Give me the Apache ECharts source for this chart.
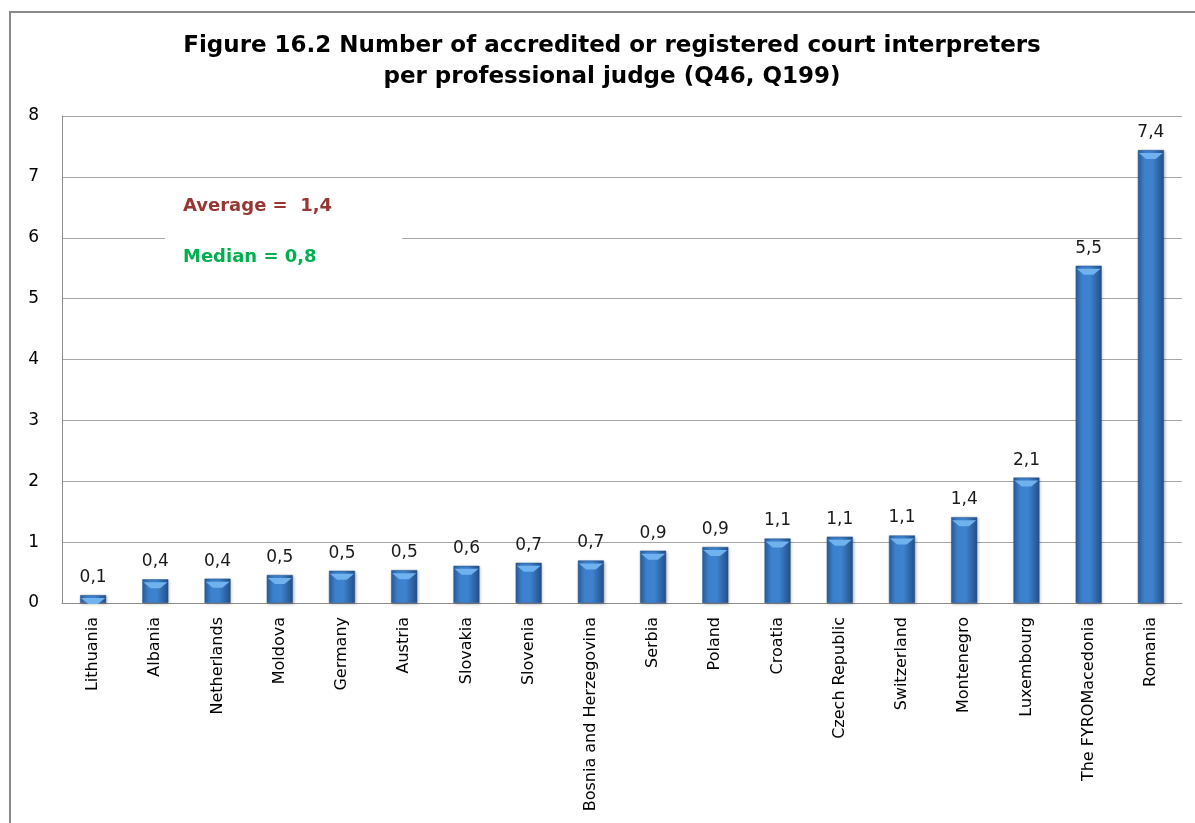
<!DOCTYPE html>
<html>
<head>
<meta charset="utf-8">
<title>Court interpreters per professional judge</title>
<script src="https://cdn.jsdelivr.net/npm/echarts@6/dist/echarts.min.js"></script>
<style>
  html, body { margin: 0; padding: 0; background: #ffffff; }
  #chart { width: 1195px; height: 823px; }
</style>
</head>
<body>
<div id="chart"></div>
<script>
// Countries, sorted from lowest to highest ratio
const countries = [
  'Lithuania', 'Albania', 'Netherlands', 'Moldova', 'Germany', 'Austria',
  'Slovakia', 'Slovenia', 'Bosnia and Herzegovina', 'Serbia', 'Poland',
  'Croatia', 'Czech Republic', 'Switzerland', 'Montenegro', 'Luxembourg',
  'The FYROMacedonia', 'Romania'
];

// Accredited or registered court interpreters per professional judge
const interpretersPerJudge = [
  0.13, 0.39, 0.40, 0.46, 0.53, 0.54,
  0.61, 0.66, 0.70, 0.86, 0.92,
  1.06, 1.09, 1.11, 1.41, 2.06,
  5.54, 7.44
];

// Value axis ticks
const yTicks = [0, 1, 2, 3, 4, 5, 6, 7, 8];

// Summary figures shown in the box
const averageText = 'Average =  1,4';
const medianText = 'Median = 0,8';

const titleLines = [
  'Figure 16.2 Number of accredited or registered court interpreters',
  'per professional judge (Q46, Q199)'
];

const FONT = 'DejaVu Sans';
const fmt = v => v.toFixed(1).replace('.', ',');

const chart = echarts.init(document.getElementById('chart'), null, { renderer: 'canvas' });

const barBody = new echarts.graphic.LinearGradient(0, 0, 1, 0, [
  { offset: 0, color: '#2a5d9c' },
  { offset: 0.25, color: '#3b80cc' },
  { offset: 0.55, color: '#3d83d0' },
  { offset: 1, color: '#244f86' }
]);

chart.setOption({
  animation: false,
  backgroundColor: '#ffffff',
  title: {
    text: titleLines.join('\n'),
    left: 607,
    top: 26,
    textAlign: 'center',
    textStyle: {
      fontFamily: FONT,
      fontWeight: 'bold',
      fontSize: 23,
      lineHeight: 31,
      color: '#000000'
    }
  },
  grid: { left: 62, right: 13, top: 116, bottom: 220, containLabel: false },
  xAxis: {
    type: 'category',
    data: countries,
    axisLine: { show: true, lineStyle: { color: '#8c8c8c', width: 1 } },
    axisTick: { show: false },
    axisLabel: {
      rotate: 90,
      interval: 0,
      margin: 14,
      fontFamily: FONT,
      fontSize: 16,
      color: '#000000'
    }
  },
  yAxis: {
    type: 'value',
    min: yTicks[0],
    max: yTicks[yTicks.length - 1],
    interval: 1,
    axisLine: { show: true, lineStyle: { color: '#8c8c8c', width: 1 } },
    axisTick: { show: false },
    axisLabel: {
      margin: 23,
      fontFamily: FONT,
      fontSize: 17,
      color: '#000000'
    },
    splitLine: { show: true, lineStyle: { color: '#a6a6a6', width: 1 } }
  },
  series: [
    {
      type: 'bar',
      data: interpretersPerJudge,
      barWidth: 26,
      itemStyle: {
        color: barBody,
        borderColor: '#24508a',
        borderWidth: 0.5,
        shadowColor: 'rgba(0,0,0,0.25)',
        shadowBlur: 3,
        shadowOffsetX: 1,
        shadowOffsetY: 1
      },
      label: {
        show: true,
        position: 'top',
        distance: 9,
        formatter: p => fmt(p.value),
        fontFamily: FONT,
        fontSize: 17,
        color: '#1a1a1a'
      },
      z: 2
    },
    {
      // light bevel across the top of each bar
      type: 'pictorialBar',
      data: interpretersPerJudge,
      symbol: 'path://M0,0 L10,0 L7,3 L3,3 Z',
      symbolSize: [24, 6],
      symbolPosition: 'end',
      symbolOffset: [0, '50%'],
      itemStyle: { color: '#6fb2ee' },
      silent: true,
      z: 3
    }
  ],
  graphic: [
    {
      type: 'rect',
      shape: { x: 10, y: 12, width: 1200, height: 830 },
      style: { fill: 'none', stroke: '#8a8a8a', lineWidth: 2 },
      silent: true,
      z: -1
    },
    {
      type: 'rect',
      shape: { x: 165, y: 182, width: 237, height: 100 },
      style: { fill: '#ffffff' },
      silent: true,
      z: 10
    },
    {
      type: 'text',
      x: 183,
      y: 206,
      style: {
        text: averageText,
        fontFamily: FONT,
        fontWeight: 'bold',
        fontSize: 18,
        fill: '#953735',
        verticalAlign: 'middle'
      },
      z: 11
    },
    {
      type: 'text',
      x: 183,
      y: 257,
      style: {
        text: medianText,
        fontFamily: FONT,
        fontWeight: 'bold',
        fontSize: 18,
        fill: '#00b050',
        verticalAlign: 'middle'
      },
      z: 11
    }
  ]
});
</script>
</body>
</html>
